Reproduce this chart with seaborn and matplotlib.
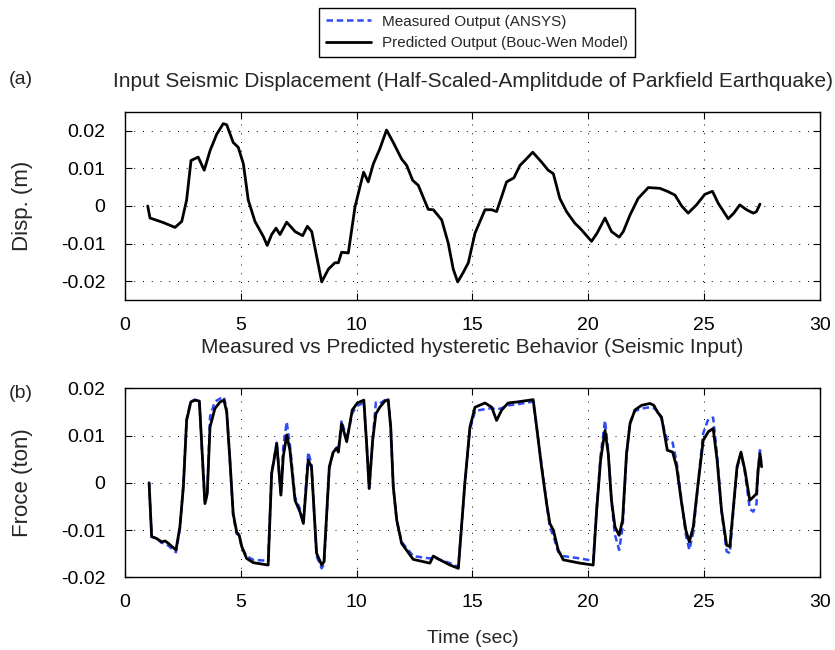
import numpy as np
import pandas as pd
import matplotlib
matplotlib.use('Agg')
import matplotlib.pyplot as plt
import seaborn as sns

# top panel: input seismic displacement (m)
disp_time = [0.98, 1.08, 1.65, 2.16, 2.45, 2.66, 2.85, 3.16, 3.42, 3.67, 3.96, 4.24, 4.39, 4.67,
             4.89, 5.11, 5.32, 5.61, 5.97, 6.14, 6.33, 6.52, 6.69, 6.98, 7.34, 7.67, 7.87, 8.06,
             8.27, 8.49, 8.78, 9.06, 9.21, 9.35, 9.64, 9.93, 10.07, 10.30, 10.50, 10.72, 11.0,
             11.29, 11.58, 11.94, 12.16, 12.42, 12.66, 13.09, 13.31, 13.67, 13.95, 14.17, 14.36,
             14.6, 14.82, 15.11, 15.54, 15.83, 16.04, 16.26, 16.47, 16.79, 17.05, 17.26, 17.60,
             17.98, 18.27, 18.49, 18.77, 19.06, 19.42, 19.64, 20.14, 20.38, 20.72, 21.0, 21.33,
             21.51, 21.8, 22.15, 22.59, 23.09, 23.45, 23.74, 24.03, 24.31, 24.67, 25.03, 25.36,
             25.61, 26.04, 26.28, 26.54, 26.83, 27.12, 27.26, 27.41]
disp_values = [0.0, -0.0032, -0.0044, -0.0057, -0.0041, 0.0016, 0.0121, 0.013, 0.0095, 0.0147,
               0.0191, 0.0219, 0.0216, 0.0169, 0.0156, 0.0112, 0.0016, -0.0041, -0.0081, -0.0105,
               -0.0076, -0.0059, -0.0076, -0.0043, -0.0068, -0.0079, -0.0054, -0.0068, -0.0133,
               -0.0202, -0.0168, -0.0151, -0.0151, -0.0123, -0.0125, -0.0002, 0.0033, 0.009,
               0.0064, 0.0112, 0.0152, 0.0202, 0.0169, 0.0125, 0.0108, 0.0068, 0.0055, -0.0009,
               -0.001, -0.0037, -0.0098, -0.0168, -0.0202, -0.0177, -0.0151, -0.0072, -0.001,
               -0.001, -0.0015, 0.0025, 0.0064, 0.0075, 0.0108, 0.0121, 0.0143, 0.0117, 0.0095,
               0.0086, 0.002, -0.0015, -0.0046, -0.0059, -0.0094, -0.0072, -0.0032, -0.0068,
               -0.0083, -0.0068, -0.0024, 0.002, 0.0049, 0.0047, 0.0038, 0.0029, 0.0, -0.0019,
               0.0003, 0.0031, 0.0039, 0.0007, -0.0034, -0.0019, 0.0003, -0.001, -0.0019,
               -0.0015, 0.0005]

# bottom panel: force (ton)
force_time = [1.04, 1.15, 1.37, 1.58, 1.73, 1.87, 2.20, 2.37, 2.52, 2.66, 2.84, 3.02, 3.21, 3.31,
              3.45, 3.55, 3.67, 3.88, 4.10, 4.27, 4.39, 4.53, 4.67, 4.82, 4.93, 5.04, 5.25, 5.54,
              6.18, 6.33, 6.43, 6.55, 6.73, 6.83, 6.98, 7.12, 7.34, 7.55, 7.70, 7.91, 8.05, 8.27,
              8.49, 8.59, 8.82, 8.99, 9.14, 9.21, 9.35, 9.57, 9.81, 10.03, 10.31, 10.43, 10.54,
              10.69, 10.83, 11.0, 11.22, 11.36, 11.47, 11.58, 11.73, 11.94, 12.44, 13.16, 13.31,
              13.6, 14.03, 14.39, 14.46, 14.67, 14.89, 15.11, 15.54, 15.83, 16.04, 16.26, 16.54,
              16.91, 17.62, 17.77, 17.98, 18.2, 18.34, 18.49, 18.7, 18.92, 19.64, 20.21, 20.36,
              20.53, 20.72, 20.86, 21.0, 21.15, 21.33, 21.48, 21.65, 21.8, 22.01, 22.3, 22.66,
              22.83, 22.98, 23.16, 23.31, 23.41, 23.64, 23.81, 24.03, 24.21, 24.36, 24.53, 24.74,
              24.96, 25.18, 25.39, 25.56, 25.75, 25.97, 26.11, 26.25, 26.42, 26.59, 26.76, 26.97,
              27.12, 27.26, 27.33, 27.41, 27.48]
force_predicted = [0.0, -0.0114, -0.0118, -0.0125, -0.0123, -0.0128, -0.0142, -0.0093, -0.0008,
                   0.0132, 0.0171, 0.0175, 0.0173, 0.0083, -0.0044, -0.0023, 0.0118, 0.0157,
                   0.0171, 0.0175, 0.015, 0.0048, -0.0065, -0.0104, -0.0111, -0.0135, -0.016,
                   -0.0169, -0.0174, 0.002, 0.0048, 0.0083, -0.0026, 0.0055, 0.0101, 0.0069,
                   -0.0037, -0.0061, -0.0086, 0.0048, 0.0034, -0.0149, -0.0174, -0.0167, 0.0034,
                   0.0065, 0.0073, 0.0065, 0.0125, 0.0087, 0.0154, 0.0169, 0.0175, 0.0083,
                   -0.0012, 0.009, 0.0146, 0.016, 0.0173, 0.0176, 0.0118, -0.0008, -0.0079,
                   -0.0128, -0.0162, -0.017, -0.0155, -0.0163, -0.0174, -0.0181, -0.0135,
                   -0.0001, 0.0118, 0.016, 0.0169, 0.016, 0.0132, 0.0154, 0.0169, 0.0171, 0.0176,
                   0.0118, 0.0034, -0.0044, -0.0086, -0.01, -0.0142, -0.0163, -0.017, -0.0174,
                   -0.0058, 0.0048, 0.0111, 0.0062, -0.0037, -0.0093, -0.0111, -0.0079, 0.0062,
                   0.0125, 0.0154, 0.0164, 0.0168, 0.0164, 0.015, 0.0139, 0.0097, 0.0069, 0.0065,
                   0.0034, -0.0044, -0.01, -0.0125, -0.0093, -0.0001, 0.009, 0.0108, 0.0115,
                   0.0048, -0.0058, -0.0132, -0.0135, -0.0058, 0.0034, 0.0065, 0.0027, -0.0037,
                   -0.003, -0.0023, 0.0027, 0.0062, 0.0034]
force_measured = [0.0, -0.0114, -0.0117, -0.0127, -0.0128, -0.0133, -0.0147, -0.0098, -0.0005,
                  0.0135, 0.0172, 0.0176, 0.0172, 0.0083, -0.0044, -0.0023, 0.014, 0.0172,
                  0.0178, 0.0182, 0.0155, 0.0045, -0.007, -0.0108, -0.0112, -0.0137, -0.0155,
                  -0.0163, -0.0165, 0.002, 0.005, 0.0085, -0.0026, 0.0075, 0.0129, 0.008,
                  -0.003, -0.0055, -0.0084, 0.0065, 0.004, -0.0155, -0.0181, -0.0172, 0.003,
                  0.0066, 0.0075, 0.0068, 0.0132, 0.0092, 0.0148, 0.0163, 0.017, 0.0083,
                  -0.0012, 0.009, 0.017, 0.0168, 0.0175, 0.0178, 0.0118, -0.0008, -0.008,
                  -0.0125, -0.0155, -0.016, -0.0158, -0.0163, -0.017, -0.0178, -0.0135,
                  -0.0003, 0.0112, 0.0152, 0.0156, 0.0158, 0.0155, 0.0158, 0.0164, 0.0166,
                  0.0172, 0.0118, 0.004, -0.004, -0.0095, -0.0112, -0.0146, -0.0155, -0.016,
                  -0.0165, -0.0055, 0.0058, 0.0132, 0.0068, -0.004, -0.011, -0.0142, -0.0095,
                  0.006, 0.0128, 0.0152, 0.0157, 0.016, 0.0158, 0.0152, 0.0136, 0.0105, 0.0092,
                  0.0085, 0.0045, -0.004, -0.011, -0.0142, -0.0105, 0.0, 0.0105, 0.0135, 0.0138,
                  0.0058, -0.006, -0.0145, -0.0149, -0.0065, 0.003, 0.0062, 0.0022, -0.0055,
                  -0.0061, -0.0045, 0.003, 0.0069, 0.0035]

x_ticks = [0, 5, 10, 15, 20, 25, 30]
disp_ticks = [-0.02, -0.01, 0, 0.01, 0.02]
disp_tick_labels = ['-0.02', '-0.01', '0', '0.01', '0.02']
force_ticks = [-0.02, -0.01, 0, 0.01, 0.02]
force_tick_labels = ['-0.02', '-0.01', '0', '0.01', '0.02']

sns.set_style('ticks')
plt.rcParams['font.family'] = ['Liberation Sans', 'DejaVu Sans']

df_disp = pd.DataFrame({'t': disp_time, 'disp': disp_values})
df_force = pd.DataFrame({'t': force_time, 'pred': force_predicted, 'meas': force_measured})

fig = plt.figure(figsize=(8.35, 6.5), dpi=100)
ax1 = fig.add_axes([0.1497, 0.5385, 0.8323, 0.2892])
ax2 = fig.add_axes([0.1497, 0.1118, 0.8323, 0.2908])

blue = '#2f4bf5'

sns.lineplot(data=df_disp, x='t', y='disp', ax=ax1, color='black', linewidth=2.0,
             estimator=None, sort=False)

sns.lineplot(data=df_force, x='t', y='meas', ax=ax2, color=blue, linewidth=1.8,
             linestyle=(0, (2.6, 1.5)), estimator=None, sort=False,
             label='Measured Output (ANSYS)')
sns.lineplot(data=df_force, x='t', y='pred', ax=ax2, color='black', linewidth=2.0,
             estimator=None, sort=False, label='Predicted Output (Bouc-Wen Model)')

for ax, yt, ytl, ylim, ylab in [(ax1, disp_ticks, disp_tick_labels, (-0.025, 0.025), 'Disp. (m)'),
                                (ax2, force_ticks, force_tick_labels, (-0.02, 0.02), 'Froce (ton)')]:
    ax.set_xlim(0, 30)
    ax.set_ylim(*ylim)
    ax.set_xticks(x_ticks)
    ax.set_xticklabels([str(v) for v in x_ticks])
    ax.set_yticks(yt)
    ax.set_yticklabels(ytl)
    ax.grid(True, color='black', linestyle=(0, (1, 8)), linewidth=0.7)
    ax.tick_params(direction='in', length=5, width=0.8, top=True, right=True,
                   labelsize=14, colors='black')
    ax.tick_params(axis='x', pad=12)
    ax.tick_params(axis='y', pad=14)
    for s in ax.spines.values():
        s.set_visible(True)
        s.set_color('black')
        s.set_linewidth(1.0)
    ax.set_xlabel('')
    ax.set_ylabel(ylab, fontsize=16)
    ax.yaxis.set_label_coords(-0.132, 0.5)

ax2.set_xlabel('Time (sec)', fontsize=14, labelpad=14)
ax2.get_legend().remove()

fig.text(0.567, 0.874, 'Input Seismic Displacement (Half-Scaled-Amplitdude of Parkfield Earthquake)',
         ha='center', va='center', fontsize=15)
fig.text(0.566, 0.465, 'Measured vs Predicted hysteretic Behavior (Seismic Input)',
         ha='center', va='center', fontsize=15)
fig.text(0.01, 0.878, '(a)', ha='left', va='center', fontsize=14)
fig.text(0.01, 0.394, '(b)', ha='left', va='center', fontsize=14)

handles, labels = ax2.get_legend_handles_labels()
leg = fig.legend(handles, labels, loc='center', bbox_to_anchor=(0.571, 0.95), fontsize=11,
                 frameon=True, fancybox=False, framealpha=1, edgecolor='black',
                 handlelength=3.0, handletextpad=0.7, borderpad=0.45, labelspacing=0.5)
leg.get_frame().set_linewidth(1.0)

fig.savefig('out.png', dpi=100)
